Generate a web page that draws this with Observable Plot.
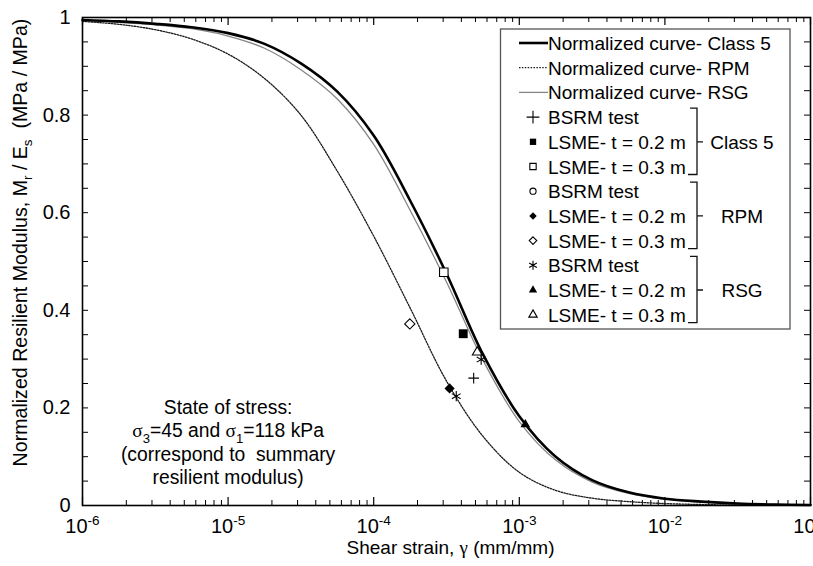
<!DOCTYPE html>
<html><head><meta charset="utf-8">
<script src="https://cdn.jsdelivr.net/npm/d3@7"></script>
<script src="https://cdn.jsdelivr.net/npm/@observablehq/plot@0.6"></script>
<style>
body{margin:0;background:#fff;}
#chart svg{display:block;}
</style>
</head><body><div id="chart"></div>
<script>
// ---- data ----
const strain = [1e-6, 1.778e-6, 3.162e-6, 5.623e-6, 1e-5, 1.778e-5, 3.162e-5, 5.623e-5,
  1e-4, 1.778e-4, 3.162e-4, 5.623e-4, 1e-3, 1.778e-3, 3.162e-3, 5.623e-3,
  1e-2, 1.778e-2, 3.162e-2, 5.623e-2, 1e-1];
const class5Curve = [0.995, 0.992, 0.987, 0.980, 0.968, 0.946, 0.906, 0.848, 0.758, 0.625, 0.475,
  0.310, 0.183, 0.100, 0.052, 0.027, 0.014, 0.008, 0.004, 0.002, 0.001];
const rpmCurve = [0.992, 0.986, 0.975, 0.956, 0.925, 0.875, 0.800, 0.685, 0.552, 0.405, 0.255,
  0.142, 0.068, 0.031, 0.015, 0.008, 0.004, 0.002, 0.001, 0.0005, 0.0002];
const rsgCurve = [0.995, 0.990, 0.985, 0.977, 0.962, 0.937, 0.893, 0.833, 0.740, 0.605, 0.458,
  0.298, 0.172, 0.093, 0.048, 0.025, 0.013, 0.007, 0.004, 0.002, 0.001];

const class5Bsrm = [[4.86e-4, 0.261]];
const class5Lsme02 = [[4.12e-4, 0.352]];
const class5Lsme03 = [[3.03e-4, 0.478]];
const rpmBsrm = [];
const rpmLsme02 = [[3.32e-4, 0.240]];
const rpmLsme03 = [[1.77e-4, 0.372]];
const rsgBsrm = [[5.47e-4, 0.299], [3.69e-4, 0.224]];
const rsgLsme02 = [[1.10e-3, 0.166]];
const rsgLsme03 = [[5.14e-4, 0.314]];

const curveLabels = ["Normalized curve- Class 5", "Normalized curve- RPM", "Normalized curve- RSG"];
const pointLabels = ["BSRM test", "LSME- t = 0.2 m", "LSME- t = 0.3 m"];
const groupLabels = ["Class 5", "RPM", "RSG"];
const xTickValues = [1e-6, 1e-5, 1e-4, 1e-3, 1e-2, 1e-1];
const yTickValues = [0, 0.2, 0.4, 0.6, 0.8, 1];
const yMinorValues = [0.05,0.1,0.15,0.25,0.3,0.35,0.45,0.5,0.55,0.65,0.7,0.75,0.85,0.9,0.95];
const xTitle = "Shear strain, ~{γ} (mm/mm)";
const yTitle = "Normalized Resilient Modulus, M_{r} / E_{s}  (MPa / MPa)";
const noteLines = ["State of stress:", "~{σ}_{3}=45 and ~{σ}_{1}=118 kPa", "(correspond to  summary", "resilient modulus)"];
const notePos = [[1.0e-5, 0.131]];

// ---- layout ----
const W = 813, H = 566, ML = 82, MR = 3, MT = 17, MB = 61;
const IW = W - ML - MR, IH = H - MT - MB;
const FONT = "'Liberation Sans', Arial, Helvetica, sans-serif";
const SERIF = "'Liberation Serif', 'Times New Roman', serif";

const toRows = arr => strain.map((x, i) => ({x, y: arr[i]}));
const class5Data = toRows(class5Curve), rpmData = toRows(rpmCurve), rsgData = toRows(rsgCurve);
const xMinor = d3.scaleLog().domain([1e-6, 1e-1]).ticks().filter(v => !xTickValues.some(t => Math.abs(t - v) / t < 1e-6));

const px = d => d[0], py = d => d[1];
const BLACK = "#000";
const styles = {
  class5: {stroke: BLACK, strokeWidth: 2.6},
  rpm: {stroke: "#1a1a1a", strokeWidth: 1.3, strokeDasharray: "1.5,1.4"},
  rsg: {stroke: "#858585", strokeWidth: 1.3}
};

const dots = (data, symbol, r, filled) => Plot.dot(data, {x: px, y: py, symbol, r,
  fill: filled === true ? BLACK : (filled === false ? "white" : "none"),
  stroke: filled === true ? "none" : BLACK, strokeWidth: 1.1});

const plot = Plot.plot({
  width: W, height: H,
  marginLeft: ML, marginRight: MR, marginTop: MT, marginBottom: MB,
  style: {fontFamily: FONT, fontSize: "20px", color: "#000", background: "#fff", overflow: "visible"},
  x: {type: "log", domain: [1e-6, 1e-1], axis: null},
  y: {domain: [0, 1], axis: null},
  marks: [
    // inward ticks on all four sides
    Plot.tickX(xMinor, {x: d => d, insetTop: IH - 5, stroke: BLACK, strokeWidth: 1}),
    Plot.tickX(xMinor, {x: d => d, insetBottom: IH - 5, stroke: BLACK, strokeWidth: 1}),
    Plot.tickX(xTickValues, {x: d => d, insetTop: IH - 8, stroke: BLACK, strokeWidth: 1.2}),
    Plot.tickX(xTickValues, {x: d => d, insetBottom: IH - 8, stroke: BLACK, strokeWidth: 1.2}),
    Plot.tickY(yMinorValues.concat(yTickValues), {y: d => d, insetRight: IW - 6, stroke: BLACK, strokeWidth: 1}),
    Plot.tickY(yMinorValues.concat(yTickValues), {y: d => d, insetLeft: IW - 6, stroke: BLACK, strokeWidth: 1}),
    // curves
    Plot.line(rpmData, {x: "x", y: "y", curve: "catmull-rom", ...styles.rpm}),
    Plot.line(rsgData, {x: "x", y: "y", curve: "catmull-rom", ...styles.rsg}),
    Plot.line(class5Data, {x: "x", y: "y", curve: "catmull-rom", ...styles.class5}),
    // test points
    dots(class5Lsme03, "square", 4.8, false),
    dots(rpmLsme03, "diamond2", 4.6, false),
    dots(class5Lsme02, "square", 5, true),
    dots(rpmLsme02, "diamond2", 4.6, true),
    dots(rsgLsme03, "triangle", 3.6, false),
    dots(rsgLsme02, "triangle", 3.6, true),
    dots(rpmBsrm, "circle", 3.5, false),
    dots(class5Bsrm, "plus", 3.5, null),
    dots(rsgBsrm, "asterisk", 4.8, null),
    Plot.frame({stroke: BLACK, strokeWidth: 1.6}),
    // axes labels
    Plot.axisX(xTickValues, {tickSize: 0, tickPadding: 13, fontSize: 20, label: null,
      tickFormat: d => `10^{${Math.round(Math.log10(d))}}`}),
    Plot.axisY(yTickValues, {tickSize: 0, tickPadding: 12, fontSize: 20, label: null, tickFormat: d => String(d)}),
    Plot.text([xTitle], {text: d => d, frameAnchor: "bottom", dy: 48, dx: 4, fontSize: 19, textAnchor: "middle"}),
    Plot.text([yTitle], {text: d => d, frameAnchor: "left", rotate: -90, dx: -62, dy: -19, fontSize: 19.6, textAnchor: "middle"}),
    Plot.text(notePos, {x: px, y: py, text: () => noteLines.join("\n"), fontSize: 19.3, lineHeight: 1.2, textAnchor: "middle"})
  ]
});

// ---- rich text: _{sub}, ^{sup}, ~{serif} ----
function richify(svg) {
  const ns = "http://www.w3.org/2000/svg";
  const els = Array.from(svg.querySelectorAll("text, tspan"));
  for (const el of els) {
    if (el.children.length) continue;
    const s = el.textContent;
    if (!/[_^~]\{/.test(s)) continue;
    const fs = parseFloat(getComputedStyle(el).fontSize) || 20;
    el.textContent = "";
    let pending = 0;
    const add = (txt, attrs) => {
      const t = document.createElementNS(ns, "tspan");
      for (const k in attrs) t.setAttribute(k, attrs[k]);
      t.textContent = txt;
      el.appendChild(t);
    };
    const re = /([_^~])\{([^}]*)\}/g;
    let last = 0, m;
    while ((m = re.exec(s))) {
      if (m.index > last) {
        add(s.slice(last, m.index), pending ? {dy: -pending} : {});
        pending = 0;
      }
      if (m[1] === "~") {
        add(m[2], Object.assign({"font-family": SERIF}, pending ? {dy: -pending} : {}));
        pending = 0;
      } else {
        const shift = m[1] === "_" ? fs * 0.28 : -fs * 0.38;
        add(m[2], {dy: shift - pending, "font-size": (fs * 0.68).toFixed(1)});
        pending = shift;
      }
      last = re.lastIndex;
    }
    if (last < s.length) add(s.slice(last), pending ? {dy: -pending} : {});
  }
}
document.getElementById("chart").appendChild(plot);
richify(plot);

// ---- legend box drawn inside the plot ----
(function legend() {
  const svg = d3.select(plot);
  const g = svg.append("g").attr("font-family", FONT).attr("font-size", 19).attr("text-anchor", "start");
  const box = {x0: 500.5, x1: 790, y0: 29, y1: 329};
  g.append("rect").attr("x", box.x0).attr("y", box.y0)
    .attr("width", box.x1 - box.x0).attr("height", box.y1 - box.y0)
    .attr("fill", "white").attr("stroke", "#555").attr("stroke-width", 1.3);
  const rowY = i => 43 + 24.7 * i;
  const textX = 548, symX = 533;
  const curveStyles = [styles.class5, styles.rpm, styles.rsg];
  curveLabels.forEach((lab, i) => {
    const st = curveStyles[i];
    g.append("line").attr("x1", 519).attr("x2", 548).attr("y1", rowY(i)).attr("y2", rowY(i))
      .attr("stroke", st.stroke).attr("stroke-width", st.strokeWidth)
      .attr("stroke-dasharray", st.strokeDasharray || null);
    g.append("text").attr("x", textX).attr("y", rowY(i) + 7).text(lab);
  });
  const sym = {
    "square": d3.symbolSquare, "diamond2": d3.symbolDiamond2, "triangle": d3.symbolTriangle,
    "circle": d3.symbolCircle, "plus": d3.symbolPlus, "asterisk": d3.symbolAsterisk
  };
  const markers = [
    ["plus", null], ["square", true], ["square", false],
    ["circle", false], ["diamond2", true], ["diamond2", false],
    ["asterisk", null], ["triangle", true], ["triangle", false]
  ];
  const sizes = {square: 40, diamond2: 36, triangle: 30, circle: 30, plus: 55, asterisk: 55};
  markers.forEach(([s, filled], k) => {
    const i = k + 3;
    g.append("path").attr("d", d3.symbol(sym[s], sizes[s])())
      .attr("transform", `translate(${symX},${rowY(i)})`)
      .attr("fill", filled === true ? BLACK : (filled === false ? "white" : "none"))
      .attr("stroke", filled === true ? "none" : BLACK).attr("stroke-width", 1.1);
    g.append("text").attr("x", textX).attr("y", rowY(i) + 7).text(pointLabels[k % 3]);
  });
  groupLabels.forEach((lab, gi) => {
    const first = 3 + gi * 3, mid = first + 1, lastR = first + 2;
    const top = rowY(first) - 9, bot = rowY(lastR) + 8, xv = 697;
    g.append("path")
      .attr("d", `M${xv - 7},${top}L${xv},${top}L${xv},${bot}L${xv - 9},${bot}M${xv},${rowY(mid)}L${xv + 6},${rowY(mid)}`)
      .attr("fill", "none").attr("stroke", "#111").attr("stroke-width", 1.3);
    g.append("text").attr("x", 742).attr("y", rowY(mid) + 7).attr("text-anchor", "middle").text(lab);
  });
})();
</script>
</body></html>
